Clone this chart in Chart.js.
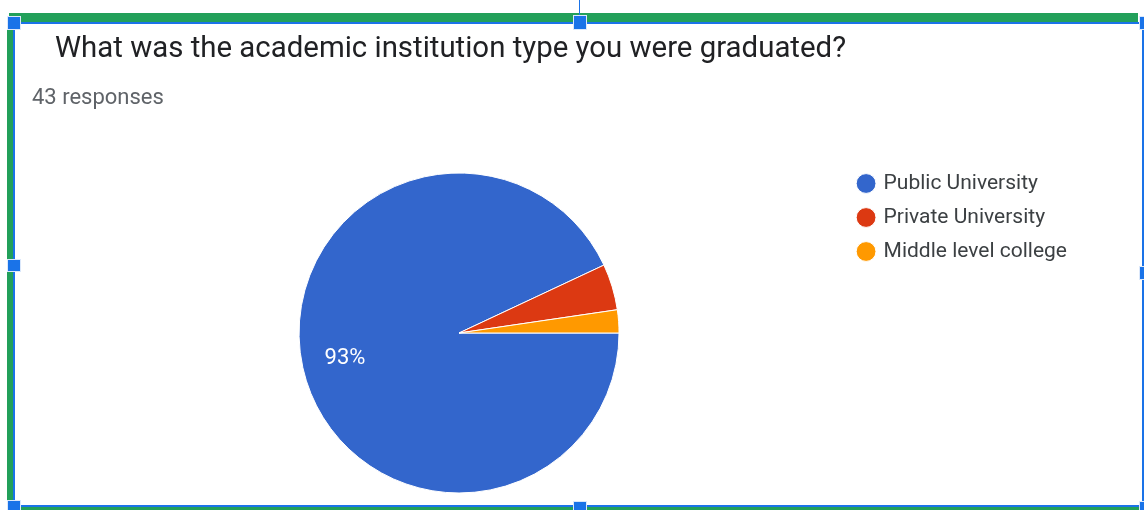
<!DOCTYPE html>
<html>
<head>
<meta charset="utf-8">
<script src="https://cdn.jsdelivr.net/npm/chart.js@4.4.1/dist/chart.umd.min.js"></script>
<style>
html, body { margin: 0; padding: 0; background: #fff; }
#wrap { position: relative; width: 1144px; height: 510px; overflow: hidden; font-family: Roboto, Arial, sans-serif; }
#grafico { position: absolute; left: 0; top: 0; }
#titulo { position: absolute; left: 55px; top: 33px; font-size: 29.4px; line-height: 1; color: #202124; white-space: nowrap; }
#respostas { position: absolute; left: 32px; top: 86px; font-size: 22px; line-height: 1; color: #5f6368; white-space: nowrap; }
.verde { position: absolute; background: #22a05a; }
.azul { position: absolute; background: #1a73e8; }
.alca { position: absolute; background: #1a73e8; border: 1px solid #dbe8fb; box-sizing: border-box; }
</style>
</head>
<body>
<div id="wrap">
  <canvas id="grafico" width="1144" height="510"></canvas>
  <div id="titulo">What was the academic institution type you were graduated?</div>
  <div id="respostas">43 responses</div>

  <!-- moldura de seleção -->
  <div class="verde" style="left:9px;top:13px;width:1129px;height:9px"></div>
  <div class="azul" style="left:9px;top:22px;width:1132px;height:2px"></div>
  <div class="verde" style="left:7px;top:28px;width:6px;height:474px"></div>
  <div class="azul" style="left:13px;top:24px;width:2px;height:478px"></div>
  <div class="azul" style="left:15px;top:505px;width:1127px;height:2px"></div>
  <div class="verde" style="left:15px;top:507px;width:1124px;height:3px"></div>
  <div class="azul" style="left:1142px;top:28px;width:2px;height:474px"></div>
  <div class="azul" style="left:579px;top:0px;width:1px;height:16px"></div>
  <div class="alca" style="left:7px;top:16px;width:14px;height:14px"></div>
  <div class="alca" style="left:573px;top:15px;width:14px;height:15px"></div>
  <div class="alca" style="left:1139px;top:16px;width:8px;height:14px"></div>
  <div class="alca" style="left:7px;top:259px;width:14px;height:13px"></div>
  <div class="alca" style="left:1139px;top:266px;width:8px;height:14px"></div>
  <div class="alca" style="left:7px;top:500px;width:14px;height:12px"></div>
  <div class="alca" style="left:573px;top:501px;width:14px;height:12px"></div>
  <div class="alca" style="left:1139px;top:501px;width:8px;height:12px"></div>
</div>

<script>
const categorias = ["Public University", "Private University", "Middle level college"];
const respostas = [40, 2, 1];
const cores = ["#3366cc", "#dc3912", "#ff9900"];

// rótulo de porcentagem dentro das fatias grandes
const rotulosFatias = {
    id: "rotulosFatias",
    afterDatasetsDraw(chart) {
        const ctx = chart.ctx;
        const meta = chart.getDatasetMeta(0);
        const valores = chart.data.datasets[0].data;
        const total = valores.reduce((a, b) => a + b, 0);
        ctx.save();
        ctx.fillStyle = "#ffffff";
        ctx.font = "22px Roboto, Arial, sans-serif";
        ctx.textAlign = "center";
        ctx.textBaseline = "middle";
        meta.data.forEach((arco, i) => {
            const pct = valores[i] / total * 100;
            if (pct < 10) return;
            const p = arco.getProps(["x", "y", "startAngle", "endAngle", "outerRadius"], true);
            const meio = (p.startAngle + p.endAngle) / 2;
            const r = p.outerRadius * 0.73;
            ctx.fillText(Math.round(pct) + "%", p.x + Math.cos(meio) * r, p.y + Math.sin(meio) * r);
        });
        ctx.restore();
    }
};

const ctx = document.getElementById("grafico").getContext("2d");
new Chart(ctx, {
    type: "pie",
    data: {
        labels: categorias,
        datasets: [{
            data: respostas,
            backgroundColor: cores,
            borderColor: "#ffffff",
            borderWidth: 1,
            radius: 160
        }]
    },
    options: {
        responsive: false,
        animation: false,
        rotation: 90,
        layout: { padding: { left: 72, right: 67, top: 160, bottom: 4 } },
        plugins: {
            tooltip: { enabled: false },
            legend: {
                position: "right",
                align: "start",
                labels: {
                    usePointStyle: true,
                    pointStyle: "circle",
                    boxWidth: 14,
                    boxHeight: 14,
                    padding: 13,
                    color: "#3c4043",
                    font: { family: "Roboto", size: 21 }
                }
            }
        }
    },
    plugins: [rotulosFatias]
});
</script>
</body>
</html>
